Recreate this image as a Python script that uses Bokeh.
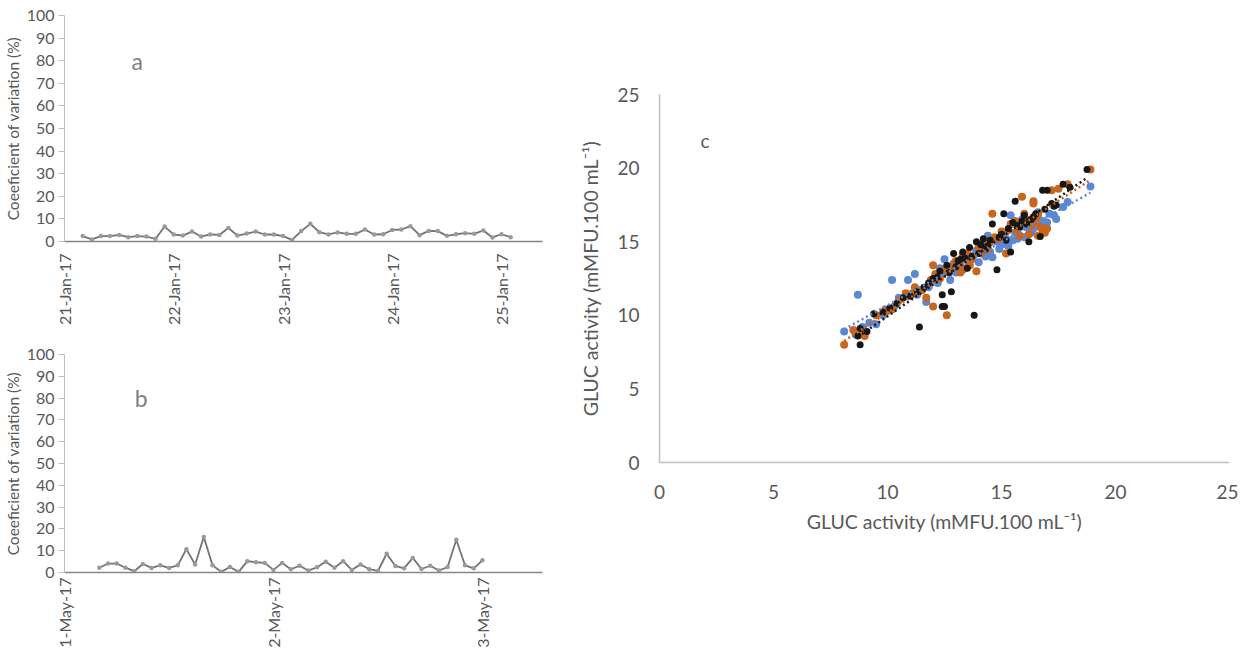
import numpy as np
import pandas as pd
from bokeh.plotting import figure
from bokeh.models import Range1d, FixedTicker, Label
from bokeh.layouts import row, column
from bokeh.embed import file_html
from bokeh.resources import INLINE

# ---------------- data ----------------
# Panel a: CV (%) every 2 h, 21-Jan-17 04:00 .. 25-Jan-17 02:00
cv_a = [2.4, 0.9, 2.4, 2.4, 2.9, 1.9, 2.4, 2.2, 1.2, 6.6, 3.1, 2.6, 4.4, 2.2, 3.1, 2.9,
        6.0, 2.6, 3.5, 4.4, 3.1, 3.1, 2.4, 0.7, 4.6, 7.8, 4.1, 3.1, 4.0, 3.4, 3.4, 5.3,
        3.1, 3.2, 5.1, 5.3, 6.8, 2.8, 4.7, 4.6, 2.5, 3.2, 3.7, 3.4, 4.9, 1.8, 3.2, 1.9]
start_a = "2017-01-21 04:00"
step_a = "2h"
day0_a = "2017-01-21"
ticks_a = ["2017-01-21", "2017-01-22", "2017-01-23", "2017-01-24", "2017-01-25"]
tick_labels_a = ["21-Jan-17", "22-Jan-17", "23-Jan-17", "24-Jan-17", "25-Jan-17"]

# Panel b: CV (%) every 1 h, 1-May-17 04:00 .. 3-May-17 00:00
cv_b = [2.2, 4.1, 4.1, 2.2, 0.6, 3.9, 2.1, 3.3, 2.1, 3.3, 10.7, 3.7, 16.3, 3.3, 0.3,
        2.5, 0.3, 5.2, 4.7, 4.4, 1.2, 4.4, 1.5, 3.1, 0.9, 2.4, 4.9, 2.2, 5.2, 1.2,
        3.7, 1.5, 0.7, 8.6, 3.0, 1.9, 6.7, 1.6, 3.1, 0.9, 2.5, 15.0, 3.3, 1.9, 5.6]
start_b = "2017-05-01 04:00"
step_b = "1h"
day0_b = "2017-05-01"
ticks_b = ["2017-05-01", "2017-05-02", "2017-05-03"]
tick_labels_b = ["1-May-17", "2-May-17", "3-May-17"]

# Panel c: GLUC activity, three series
blue_x = [8.1, 8.6, 8.7, 8.9, 9.2, 9.5, 9.8, 10.2, 10.3, 10.5, 10.9, 11.0, 11.2, 11.5, 11.7,
          11.8, 12.1, 12.3, 12.5, 12.6, 12.75, 12.9, 13.1, 13.3, 13.4, 13.6, 13.8, 14.0, 14.2,
          14.4, 14.6, 14.8, 15.0, 15.2, 15.4, 15.5, 15.6, 15.8, 16.0, 16.2, 16.4, 16.5, 16.7,
          16.9, 17.1, 17.3, 17.4, 17.7, 17.9, 18.9, 13.0, 14.5, 15.9, 16.6, 12.4,
          13.2, 13.9, 14.3, 15.1, 15.7, 16.1, 16.3, 16.8, 17.0, 12.2, 11.3, 14.9, 15.3]
blue_y = [8.9, 8.7, 11.4, 9.2, 9.5, 9.4, 10.0, 12.4, 10.6, 11.2, 12.4, 11.4, 12.8, 11.7, 10.9,
          11.9, 12.6, 13.2, 13.8, 13.0, 12.4, 13.5, 13.3, 13.1, 13.9, 13.4, 14.1, 13.6, 14.6,
          15.4, 13.95, 15.0, 14.8, 15.2, 16.8, 15.1, 15.6, 16.0, 15.3, 16.4, 15.9, 16.6, 16.2,
          15.7, 16.9, 16.8, 16.55, 17.35, 17.7, 18.75, 12.9, 14.3, 16.5, 17.0, 12.8,
          13.6, 14.4, 14.0, 15.5, 15.2, 16.0, 15.6, 16.4, 16.3, 12.2, 11.4, 14.5, 14.7]
orange_x = [8.1, 8.5, 8.9, 9.0, 9.5, 9.9, 10.2, 10.5, 10.8, 11.2, 11.5, 11.7, 11.9, 12.0, 12.0,
            12.1, 12.3, 12.5, 12.6, 12.8, 13.0, 13.2, 13.3, 13.5, 13.7, 13.9, 14.0, 14.2, 14.4,
            14.6, 14.7, 15.0, 15.2, 15.4, 15.6, 15.9, 16.0, 16.2, 16.4, 16.4, 16.5, 16.7, 16.8,
            16.9, 17.2, 17.5, 17.9, 18.9, 15.8, 16.6, 13.6, 11.1,
            12.7, 13.1, 13.4, 14.1, 14.5, 14.9, 15.3, 15.7, 16.1, 16.3, 16.6, 17.0, 10.0]
orange_y = [8.0, 9.0, 8.8, 8.6, 10.0, 10.4, 10.4, 11.0, 11.5, 11.9, 11.7, 11.2, 12.4, 10.6, 13.4,
            12.8, 12.5, 13.1, 10.0, 13.3, 13.7, 12.9, 14.1, 14.2, 13.8, 13.0, 14.6, 14.9, 14.5,
            16.9, 15.3, 15.7, 14.2, 16.2, 16.4, 18.05, 16.9, 15.5, 17.75, 17.6, 16.3, 16.0, 15.8,
            15.6, 18.5, 18.6, 18.9, 19.9, 15.4, 16.8, 13.4, 11.5,
            12.9, 13.5, 13.2, 14.2, 15.0, 15.2, 15.8, 15.6, 16.5, 16.1, 15.4, 15.9, 10.3]
black_x = [8.7, 8.8, 8.8, 9.1, 9.4, 9.8, 10.1, 10.4, 10.7, 11.0, 11.3, 11.4, 11.6, 11.8, 12.0,
           12.3, 12.4, 12.4, 12.5, 12.6, 12.8, 12.9, 13.0, 13.2, 13.3, 13.5, 13.6, 13.8, 13.9,
           14.0, 14.2, 14.4, 14.6, 14.8, 15.0, 15.1, 15.3, 15.4, 15.5, 15.6, 15.8, 16.0, 16.2,
           16.3, 16.5, 16.7, 16.8, 17.0, 17.2, 17.4, 17.7, 18.0, 18.75, 13.1, 14.1, 15.2,
           12.2, 12.7, 13.4, 13.7, 14.3, 14.5, 14.9, 15.7, 15.9, 16.1, 16.4, 16.9, 17.3]
black_y = [8.6, 8.0, 9.1, 8.9, 10.1, 10.2, 10.5, 10.8, 11.2, 11.3, 11.6, 9.2, 11.9, 12.2, 12.5,
           13.0, 11.4, 10.6, 10.6, 13.4, 11.6, 14.2, 13.3, 13.8, 14.3, 13.2, 14.6, 10.0, 15.0,
           14.2, 15.2, 14.7, 16.2, 13.1, 15.5, 16.9, 15.9, 14.3, 16.3, 17.75, 16.0, 16.8, 15.0,
           16.5, 16.9, 15.35, 18.5, 18.5, 17.6, 17.5, 18.9, 18.7, 19.9, 13.7, 14.8, 15.1,
           12.6, 12.9, 13.9, 14.0, 14.5, 15.1, 15.3, 16.1, 16.4, 16.2, 16.7, 17.2, 17.4]

c_ticks = [0, 5, 10, 15, 20, 25]
cv_ticks = list(range(0, 101, 10))

FONT = "Lato"
TXT = "#595959"


def hours_since(times, day0):
    return list((pd.to_datetime(times) - pd.Timestamp(day0)) / pd.Timedelta("1h"))


def cv_panel(cv, start, step, day0, ticks, labels, xmax_h, w, h, bt, bb, std,
             letter, letter_x):
    times = pd.date_range(start, periods=len(cv), freq=step)
    xs = hours_since(times, day0)
    tick_h = hours_since(ticks, day0)
    p = figure(width=w, height=h, x_range=Range1d(0, xmax_h), y_range=Range1d(0, 100),
               output_backend="svg", toolbar_location=None,
               min_border_left=64, min_border_right=10, min_border_top=bt, min_border_bottom=bb)
    p.outline_line_color = None
    p.xgrid.visible = False
    p.ygrid.visible = False
    p.line(xs, cv, line_color="#737373", line_width=1.8)
    p.scatter(xs, cv, size=4.5, fill_color="#9a9a9a", line_color=None)
    p.xaxis.ticker = FixedTicker(ticks=tick_h)
    p.xaxis.major_label_overrides = {int(round(t)): l for t, l in zip(tick_h, labels)}
    p.xaxis.major_label_orientation = np.pi / 2
    p.xaxis.major_tick_out = 0
    p.xaxis.major_tick_in = 0
    p.xaxis.minor_tick_out = 0
    p.xaxis.minor_tick_in = 0
    p.xaxis.axis_line_color = "#868686"
    p.xaxis.axis_line_width = 1.5
    p.xaxis.major_label_standoff = std
    p.xaxis.major_label_text_font = FONT
    p.xaxis.major_label_text_font_size = "16px"
    p.xaxis.major_label_text_color = TXT
    p.yaxis.ticker = FixedTicker(ticks=cv_ticks)
    p.yaxis.axis_line_color = "#BFBFBF"
    p.yaxis.major_tick_line_color = "#BFBFBF"
    p.yaxis.major_tick_out = 6
    p.yaxis.major_tick_in = 0
    p.yaxis.minor_tick_out = 0
    p.yaxis.minor_tick_in = 0
    p.yaxis.major_label_standoff = 4
    p.yaxis.major_label_text_font = FONT
    p.yaxis.major_label_text_font_size = "16px"
    p.yaxis.major_label_text_color = TXT
    p.yaxis.axis_label = "Coeeficient of variation (%)"
    p.yaxis.axis_label_text_font = FONT
    p.yaxis.axis_label_text_font_style = "normal"
    p.yaxis.axis_label_text_font_size = "15.5px"
    p.yaxis.axis_label_text_color = TXT
    p.yaxis.axis_label_standoff = 2
    p.add_layout(Label(x=letter_x, y=80, text=letter, text_font=FONT, text_font_size="23px",
                       text_color="#7f7f7f", text_align="center", text_baseline="middle"))
    return p


pa = cv_panel(cv_a, start_a, step_a, day0_a, ticks_a, tick_labels_a, 105.0,
              552, 327, 15, 85, 12, "a", 16.0)
pb = cv_panel(cv_b, start_b, step_b, day0_b, ticks_b, tick_labels_b, 54.9,
              552, 323, 27, 70, 5, "b", 8.8)

# Panel c
pc = figure(width=686, height=540, x_range=Range1d(0, 25), y_range=Range1d(0, 25),
            output_backend="svg", toolbar_location=None,
            min_border_left=107, min_border_right=9, min_border_top=94, min_border_bottom=78)
pc.outline_line_color = None
pc.xgrid.visible = False
pc.ygrid.visible = False

series = [(blue_x, blue_y, "#5b87d3", 8), (orange_x, orange_y, "#c8651f", 8),
          (black_x, black_y, "#161616", 7)]
for xs, ys, col, sz in series:
    pc.scatter(xs, ys, size=sz, fill_color=col, line_color=None)
for xs, ys, col, sz in series:
    k, b = np.polyfit(xs, ys, 1)
    x0, x1 = min(xs), max(xs)
    pc.line([x0, x1], [k * x0 + b, k * x1 + b], line_color=col, line_width=2.5,
            line_dash="2 3")

for ax in (pc.xaxis[0], pc.yaxis[0]):
    ax.ticker = FixedTicker(ticks=c_ticks)
    ax.axis_line_color = "#BFBFBF"
    ax.axis_line_width = 1.5
    ax.major_tick_out = 0
    ax.major_tick_in = 0
    ax.minor_tick_out = 0
    ax.minor_tick_in = 0
    ax.major_label_text_font = FONT
    ax.major_label_text_font_size = "19px"
    ax.major_label_text_color = TXT
    ax.axis_label = "GLUC activity (mMFU.100 mL\u207b\u00b9)"
    ax.axis_label_text_font = FONT
    ax.axis_label_text_font_style = "normal"
    ax.axis_label_text_font_size = "19.5px"
    ax.axis_label_text_color = TXT
pc.xaxis.major_label_standoff = 22
pc.xaxis.axis_label_standoff = 8
pc.yaxis.major_label_standoff = 20
pc.yaxis.axis_label_standoff = 12

pc.add_layout(Label(x=2.0, y=21.9, text="c", text_font=FONT, text_font_size="19px",
                    text_color="#595959", text_align="center", text_baseline="middle"))

layout = row(column(pa, pb), pc)
open("out.html", "w").write(file_html(layout, INLINE))
